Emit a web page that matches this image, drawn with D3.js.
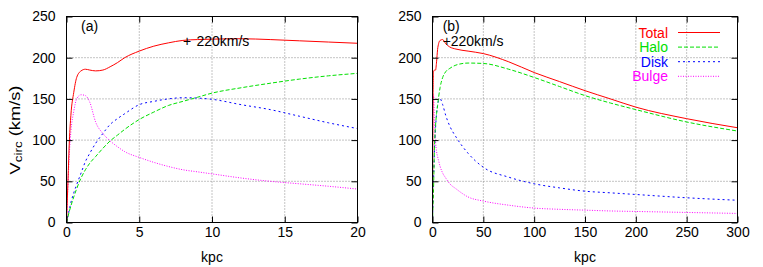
<!DOCTYPE html>
<html>
<head>
<meta charset="utf-8">
<script src="https://d3js.org/d3.v7.min.js"></script>
<style>
body { margin: 0; background: #fff; }
text { font-family: "Liberation Sans", Arial, sans-serif; fill: #000; }
</style>
</head>
<body>
<svg id="chart" width="763" height="267"></svg>
<script>
// panel (a): inner 20 kpc
var radiusA = [0, 0.1, 0.2, 0.3, 0.5, 0.7, 1.0, 1.3, 1.6, 2.0, 2.5, 3.0, 3.5, 4, 5, 6, 7, 8, 9, 10, 12, 14, 16, 18, 20];
var totalA  = [0, 50, 100, 130, 158, 176, 184, 186, 185, 184, 185, 189, 194, 200, 208, 214, 218, 221, 222, 222.5, 223, 222, 220.5, 219, 217.5];
var haloA   = [0, 7, 14, 20, 31, 41, 54, 64, 72, 80, 90, 99, 106, 113, 125, 134, 142, 147, 152, 157, 163.5, 169, 174, 178, 181];
var diskA   = [0, 8, 16, 24, 36, 46, 60, 74, 84, 96, 108, 119, 126, 132, 143, 147, 150, 151.4, 151, 149.5, 143, 137, 129, 121, 114];
var bulgeA  = [0, 45, 85, 110, 135, 150, 155, 154, 146, 122, 108, 99, 92, 86, 79, 73, 68, 64, 61.5, 59, 54, 50, 47, 44, 40.6];

// panel (b): out to 300 kpc
var radiusB = [0, 0.5, 1, 2, 3, 4, 5, 6, 7.5, 10, 13, 17, 23, 35, 50, 75, 100, 125, 150, 175, 200, 250, 300];
var totalB  = [0, 150, 183, 185, 185, 195, 210, 217, 221, 222, 217, 213, 210.5, 208, 205, 195, 182, 171, 160, 150, 140, 126, 115];
var haloB   = [0, 20, 40, 95, 118, 132, 142, 152, 164, 176, 183, 187, 191, 193.5, 193, 186, 176, 165, 154, 145, 137, 122, 111];
var diskB   = [0, 25, 50, 90, 115, 132, 142, 148, 150, 143, 130, 117, 104, 84, 67, 55, 47, 42, 38, 36, 34, 30, 27];
var bulgeB  = [0, 140, 155, 120, 98, 86, 80, 75, 68, 60, 54, 47, 41, 31, 26, 21, 17.5, 16, 15, 14, 13.4, 12.2, 11];

var xTicksA = [0, 5, 10, 15, 20];
var xTicksB = [0, 50, 100, 150, 200, 250, 300];
var yTicks = [0, 50, 100, 150, 200, 250];

var seriesNames = ["Total", "Halo", "Disk", "Bulge"];
var seriesColors = ["#ff0000", "#00e000", "#0000ff", "#ff00ff"];
var seriesDash = [null, "4,2", "2,3", "1,1.5"];

var svg = d3.select('#chart');
var fontSize = 14;

function Panel(settings) {
	this.id = settings.id;
	this.left = settings.left;
	this.right = settings.right;
	this.top = 16.5;
	this.bottom = 222.5;
	this.radius = settings.radius;
	this.series = settings.series;
	this.xMax = settings.xMax;
	this.xTicks = settings.xTicks;
	this.tag = settings.tag;
	this.mark = settings.mark;
	this.markGap = settings.markGap;
	this.legend = settings.legend || false;
}

Panel.prototype.draw = function() {
	var self = this;
	var x = d3.scaleLinear().domain([0, this.xMax]).range([this.left, this.right]);
	var y = d3.scaleLinear().domain([0, 250]).range([this.bottom, this.top]);
	var g = svg.append("g").attr("id", this.id);

	// dotted grid
	g.selectAll(".vgrid").data(this.xTicks).enter().append("line")
		.attr("x1", function(d) { return x(d); })
		.attr("x2", function(d) { return x(d); })
		.attr("y1", this.top).attr("y2", this.bottom)
		.attr("stroke", "#888").attr("stroke-dasharray", "1,2");
	g.selectAll(".hgrid").data(yTicks).enter().append("line")
		.attr("y1", function(d) { return y(d); })
		.attr("y2", function(d) { return y(d); })
		.attr("x1", this.left).attr("x2", this.right)
		.attr("stroke", "#888").attr("stroke-dasharray", "1,2");

	// curves
	g.append("clipPath").attr("id", "clip-" + this.id).append("rect")
		.attr("x", this.left).attr("y", this.top)
		.attr("width", this.right - this.left).attr("height", this.bottom - this.top);
	var line = d3.line()
		.x(function(d) { return x(d[0]); })
		.y(function(d) { return y(d[1]); })
		.curve(d3.curveMonotoneX);
	// draw bulge first so total ends on top
	for (var i = this.series.length - 1; i >= 0; i--) {
		var pts = this.radius.map(function(r, k) { return [r, self.series[i][k]]; });
		g.append("path")
			.attr("d", line(pts))
			.attr("fill", "none")
			.attr("stroke", seriesColors[i])
			.attr("stroke-width", 1)
			.attr("stroke-dasharray", seriesDash[i])
			.attr("clip-path", "url(#clip-" + this.id + ")");
	}

	// axes, ticks pointing inward on all sides
	g.append("g").attr("transform", "translate(0," + this.bottom + ")")
		.call(d3.axisBottom(x).tickValues(this.xTicks).tickSizeInner(-6).tickSizeOuter(0).tickPadding(5));
	g.append("g").attr("transform", "translate(" + this.left + ",0)")
		.call(d3.axisLeft(y).tickValues(yTicks).tickSizeInner(-6).tickSizeOuter(0).tickPadding(11));
	g.append("g").attr("transform", "translate(0," + this.top + ")")
		.call(d3.axisTop(x).tickValues(this.xTicks).tickSizeInner(-6).tickSizeOuter(0).tickFormat(""));
	g.append("g").attr("transform", "translate(" + this.right + ",0)")
		.call(d3.axisRight(y).tickValues(yTicks).tickSizeInner(-6).tickSizeOuter(0).tickFormat(""));
	g.selectAll(".domain").remove();
	g.selectAll(".tick line").attr("stroke", "#000");
	g.selectAll(".tick text").attr("font-size", fontSize)
		.attr("font-family", "'Liberation Sans', Arial, sans-serif").attr("fill", "#000");

	g.append("rect")
		.attr("x", this.left).attr("y", this.top)
		.attr("width", this.right - this.left).attr("height", this.bottom - this.top)
		.attr("fill", "none").attr("stroke", "#000");

	g.append("text")
		.attr("x", (this.left + this.right) / 2).attr("y", 262)
		.attr("text-anchor", "middle").attr("font-size", fontSize)
		.text("kpc");

	// panel tag and 220 km/s marker
	g.append("text")
		.attr("x", x(this.tag[0])).attr("y", y(this.tag[1]))
		.attr("font-size", fontSize).text(this.tag[2]);
	g.append("text")
		.attr("x", x(this.mark[0])).attr("y", y(this.mark[1]) + 5)
		.attr("font-size", fontSize).text("+");
	g.append("text")
		.attr("x", x(this.mark[0]) + this.markGap).attr("y", y(this.mark[1]) + 5)
		.attr("font-size", fontSize).text("220km/s");

	if (this.legend) {
		this.drawLegend(g);
	}
}

Panel.prototype.drawLegend = function(g) {
	var rows = g.selectAll(".legend").data(seriesNames).enter().append("g")
		.attr("transform", function(d, i) { return "translate(0," + (37.5 + i * 14.6) + ")"; });
	rows.append("text")
		.attr("x", 668).attr("text-anchor", "end")
		.attr("font-size", fontSize)
		.style("fill", function(d, i) { return seriesColors[i]; })
		.text(function(d) { return d; });
	rows.append("line")
		.attr("x1", 678).attr("x2", 720).attr("y1", -5).attr("y2", -5)
		.attr("stroke", function(d, i) { return seriesColors[i]; })
		.attr("stroke-dasharray", function(d, i) { return seriesDash[i]; });
}

var panelA = new Panel({
	id: "panel-a", left: 66.5, right: 357.5,
	radius: radiusA, series: [totalA, haloA, diskA, bulgeA],
	xMax: 20, xTicks: xTicksA,
	tag: [1, 232, "(a)"], mark: [8, 220], markGap: 13.5
});
var panelB = new Panel({
	id: "panel-b", left: 432.5, right: 737.5,
	radius: radiusB, series: [totalB, haloB, diskB, bulgeB],
	xMax: 300, xTicks: xTicksB,
	tag: [10, 232, "(b)"], mark: [10, 220], markGap: 8, legend: true
});
panelA.draw();
panelB.draw();

// y axis title, stretched along its length like the original
var ylab = svg.append("text")
	.attr("transform", "translate(20,130) rotate(-90) scale(1.22,1)")
	.attr("text-anchor", "middle").attr("font-size", 15);
ylab.append("tspan").text("V");
ylab.append("tspan").attr("font-size", 11).attr("dy", 2).text("circ");
ylab.append("tspan").attr("dy", -2).text(" (km/s)");
</script>
</body>
</html>
